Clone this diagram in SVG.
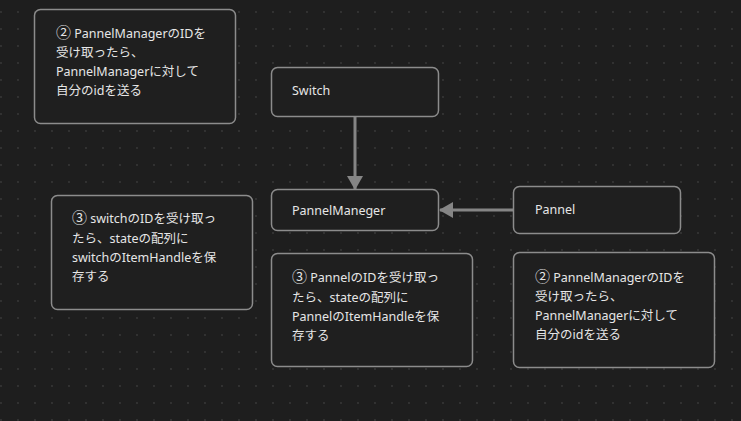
<svg xmlns="http://www.w3.org/2000/svg" width="741" height="421" viewBox="0 0 741 421">
<defs>
<pattern id="dots" x="0" y="11" width="17" height="17" patternUnits="userSpaceOnUse">
<circle cx="1" cy="1" r="0.9" fill="#3a3a3a"/>
</pattern>
<marker id="ah" viewBox="0 0 14 16" refX="13" refY="8" markerWidth="14" markerHeight="16" markerUnits="userSpaceOnUse" orient="auto">
<path d="M0,0 L14,8 L0,16 Z" fill="#858585"/>
</marker>
<style>
.box{fill:#1f1f1f;stroke:#8c8c8c;stroke-width:1.5}
.t{font-family:"Noto Sans","Noto Sans CJK JP",sans-serif;font-size:12.5px;fill:#e6e6e6}
.n{font-family:"Noto Sans CJK JP",sans-serif;font-size:15px}
.c{stroke:#858585;stroke-width:3;fill:none}
</style>
</defs>
<rect width="741" height="421" fill="#1e1e1e"/>
<rect width="741" height="421" fill="url(#dots)"/>
<g id="connectors">
<line class="c" x1="355" y1="117" x2="355" y2="189" marker-end="url(#ah)"/>
<line class="c" x1="513" y1="210" x2="440" y2="210" marker-end="url(#ah)"/>
</g>
<g id="note1">
<rect class="box" x="34.5" y="9.5" width="201" height="114" rx="6"/>
<text class="t"><tspan x="56" y="38"><tspan class="n">②</tspan> PannelManagerのIDを</tspan><tspan x="56" y="57">受け取ったら、</tspan><tspan x="56" y="76">PannelManagerに対して</tspan><tspan x="56" y="95">自分のidを送る</tspan></text>
</g>
<g id="switch">
<rect class="box" x="271.5" y="67.5" width="167" height="49" rx="6"/>
<text class="t" x="292" y="95">Switch</text>
</g>
<g id="pannelmaneger">
<rect class="box" x="271.5" y="189.5" width="167" height="41" rx="6"/>
<text class="t" x="292" y="215">PannelManeger</text>
</g>
<g id="pannel">
<rect class="box" x="513.5" y="186.5" width="167" height="47" rx="6"/>
<text class="t" x="535" y="214">Pannel</text>
</g>
<g id="note2">
<rect class="box" x="51.5" y="195.5" width="201" height="114" rx="6"/>
<text class="t"><tspan x="72" y="223"><tspan class="n">③</tspan> switchのIDを受け取っ</tspan><tspan x="72" y="243">たら、stateの配列に</tspan><tspan x="72" y="262">switchのItemHandleを保</tspan><tspan x="72" y="281">存する</tspan></text>
</g>
<g id="note3">
<rect class="box" x="271.5" y="253.5" width="201" height="113" rx="6"/>
<text class="t"><tspan x="292" y="282"><tspan class="n">③</tspan> PannelのIDを受け取っ</tspan><tspan x="292" y="302">たら、stateの配列に</tspan><tspan x="292" y="321">PannelのItemHandleを保</tspan><tspan x="292" y="340">存する</tspan></text>
</g>
<g id="note4">
<rect class="box" x="513.5" y="252.5" width="201" height="115" rx="6"/>
<text class="t"><tspan x="535" y="282"><tspan class="n">②</tspan> PannelManagerのIDを</tspan><tspan x="535" y="301">受け取ったら、</tspan><tspan x="535" y="320">PannelManagerに対して</tspan><tspan x="535" y="339">自分のidを送る</tspan></text>
</g>
</svg>
